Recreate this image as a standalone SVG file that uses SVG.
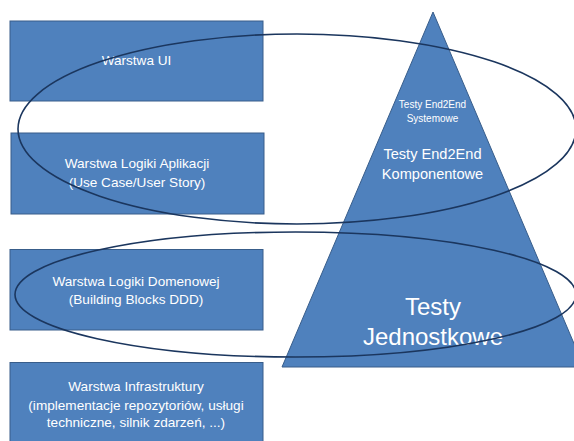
<svg xmlns="http://www.w3.org/2000/svg" width="574" height="441" viewBox="0 0 574 441">
<style>
.box{fill:#4F81BD;stroke:#385D8A;stroke-width:1}
.t{fill:#FFFFFF;font-family:"Liberation Sans",Arial,sans-serif;text-anchor:middle}
.m{font-size:13.6px}
.ring{fill:none;stroke:#1B365E;stroke-width:1.6}
</style>
<rect width="574" height="441" fill="#FFFFFF"/>
<g id="warstwa-ui">
<rect class="box" x="10" y="21" width="253" height="80"/>
<text class="t m" x="136.5" y="65">Warstwa UI</text>
</g>
<g id="warstwa-aplikacji">
<rect class="box" x="11" y="133" width="253" height="81"/>
<text class="t m" x="137" y="168">Warstwa Logiki Aplikacji</text>
<text class="t m" x="137" y="187">(Use Case/User Story)</text>
</g>
<g id="warstwa-domenowa">
<rect class="box" x="10" y="249.5" width="253" height="80.5"/>
<text class="t m" x="136" y="286">Warstwa Logiki Domenowej</text>
<text class="t m" x="136" y="304">(Building Blocks DDD)</text>
</g>
<g id="warstwa-infrastruktury">
<rect class="box" x="10" y="362.5" width="253" height="85"/>
<text class="t m" x="136" y="391">Warstwa Infrastruktury</text>
<text class="t m" x="136" y="410">(implementacje repozytoriów, usługi</text>
<text class="t m" x="136" y="427">techniczne, silnik zdarzeń,  ...)</text>
</g>
<g id="piramida">
<polygon class="box" points="433,12 584,367 282,367"/>
<text class="t" x="432.5" y="108" font-size="10">Testy End2End</text>
<text class="t" x="432.5" y="122" font-size="10">Systemowe</text>
<text class="t" x="432.5" y="159" font-size="14.6">Testy End2End</text>
<text class="t" x="432.5" y="179" font-size="14.6">Komponentowe</text>
<text class="t" x="433" y="315" font-size="24">Testy</text>
<text class="t" x="433" y="345" font-size="24">Jednostkowe</text>
</g>
<g id="connectors">
<ellipse class="ring" cx="297" cy="129" rx="279" ry="95"/>
<ellipse class="ring" cx="295.5" cy="294.5" rx="280.5" ry="62.5"/>
</g>
</svg>
